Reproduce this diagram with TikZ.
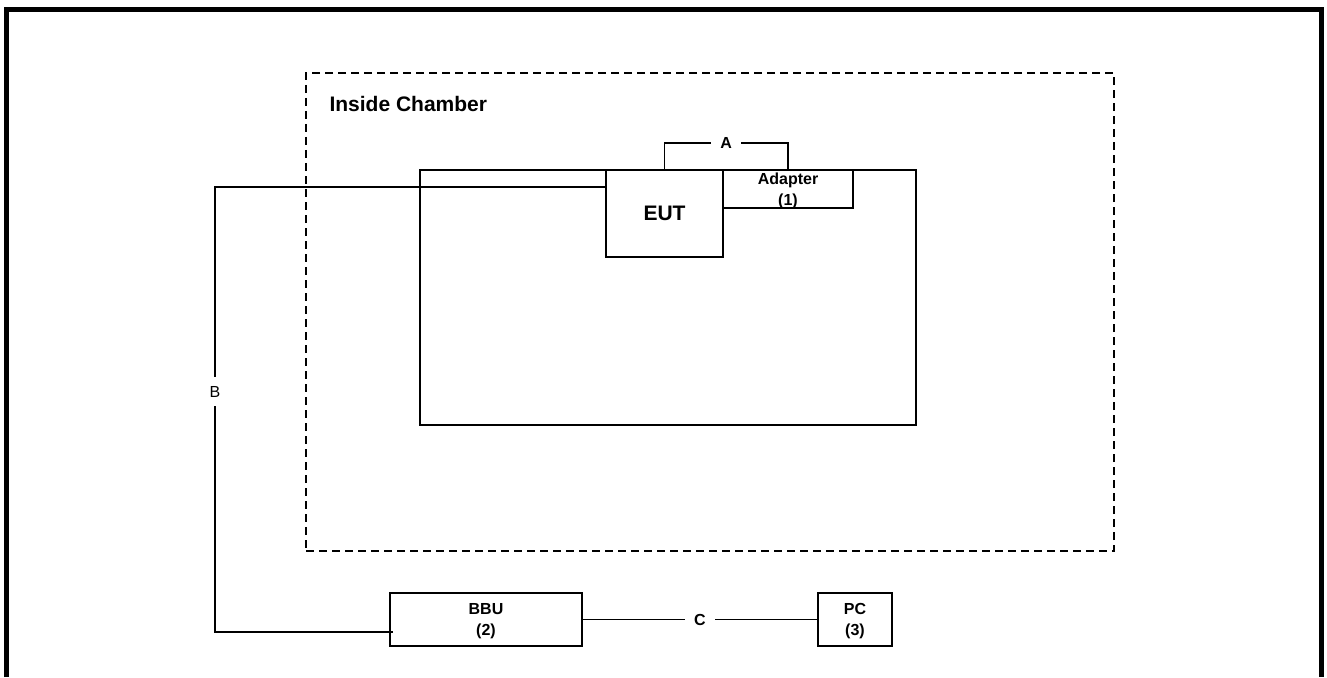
\documentclass[tikz,border=0pt]{standalone}
\usepackage{fontspec}
\setmainfont{Liberation Sans}
\usetikzlibrary{positioning, calc}

\begin{document}
\begin{tikzpicture}[
    x=1pt, y=-1pt,
    unit/.style={rectangle, draw=black, line width=1.8pt, inner sep=0pt, outer sep=0pt, align=center, font=\fontsize{16}{21}\selectfont\bfseries},
    area/.style={rectangle, draw=black, line width=1.8pt, inner sep=0pt, outer sep=0pt},
    cable/.style={draw=black, line width=1.8pt},
    tag/.style={fill=white, inner sep=9pt, font=\fontsize{16}{19}\selectfont\bfseries}
]
    \useasboundingbox (0,0) rectangle (1327,677);
    % frame, open at the bottom
    \draw [line width=5pt] (6,677) -- (6,9.5) -- (1321.5,9.5) -- (1321.5,677);

    \node (chamber) [area, dashed, dash pattern=on 8pt off 5pt, minimum width=808pt, minimum height=478pt] at (710,312) {};
    \node (title) [anchor=west, font=\fontsize{21}{25}\selectfont\bfseries] at (326,104) {Inside Chamber};

    \node (room) [area, minimum width=496pt, minimum height=255pt] at (668,297.5) {};
    \node (eut) [unit, minimum width=117pt, minimum height=87pt, font=\fontsize{21}{25}\selectfont\bfseries] at (664.5,213.5) {EUT};
    \node (adapter) [unit, minimum width=130pt, minimum height=38pt, anchor=north west, text depth=-2pt] at (eut.north east) {Adapter\\(1)};

    \node (bbu) [unit, minimum width=192pt, minimum height=53pt, text depth=-3pt] at (486,619.5) {BBU\\(2)};
    \node (pc) [unit, minimum width=74pt, minimum height=53pt, text depth=-3pt] at (855,619.5) {PC\\(3)};

    \coordinate (bturn) at (215,187);

    \draw [cable] (eut.north) -- ++(0,-27) -| node[tag, pos=0.25] {A} (adapter.north);
    \draw [cable] ($(eut.north west)+(0,17)$) -- (bturn) |- node[tag, pos=0.23, font=\fontsize{16}{19}\selectfont] {B} ($(bbu.west)+(3,12.5)$);
    \draw [cable] (bbu) -- node[tag] {C} (pc);
\end{tikzpicture}
\end{document}
